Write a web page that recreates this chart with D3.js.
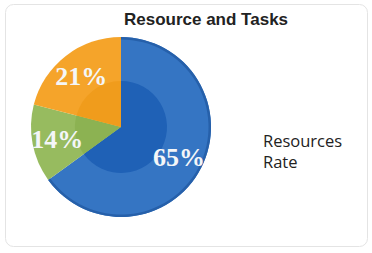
<!DOCTYPE html>
<html>
<head>
<meta charset="utf-8">
<script src="https://cdn.jsdelivr.net/npm/d3@7"></script>
<style>
  html, body { margin: 0; padding: 0; background: #fff; }
  svg { display: block; }
</style>
</head>
<body>
<svg id="chart" width="372" height="253"></svg>
<script>
// chart data
var categories = ["Resources", "Tasks", "Other"],
	values = [65, 14, 21],
	valueLabels = ["65%", "14%", "21%"],
	legendLines = ["Resources", "Rate"];

var outerColors = ["#3575c3", "#97bb5f", "#f5a42a"],
	innerColors = ["#1f61b6", "#8cb252", "#f09c1c"];

var svg = d3.select("#chart"),
	cx = 121,
	cy = 127,
	radius = 90,
	innerRadius = 46,
	labelRadius = 65;

// card
svg.append("rect")
	.attr("x", 5.5).attr("y", 4.5)
	.attr("width", 362).attr("height", 242)
	.attr("rx", 8)
	.attr("fill", "#fff")
	.attr("stroke", "#e4e4e4");

// title
svg.append("text")
	.attr("x", 206).attr("y", 25)
	.attr("text-anchor", "middle")
	.attr("font-family", "Liberation Sans, Arial, sans-serif")
	.attr("font-weight", "bold")
	.attr("font-size", 17)
	.attr("fill", "#222")
	.text("Resource and Tasks");

var pie = d3.pie().sort(null).value(function(d) { return d; });
var arcs = pie(values);

var outerArc = d3.arc().innerRadius(0).outerRadius(radius),
	innerArc = d3.arc().innerRadius(0).outerRadius(innerRadius),
	labelArc = d3.arc().innerRadius(labelRadius).outerRadius(labelRadius);

var g = svg.append("g").attr("transform", "translate(" + cx + "," + cy + ")");

// outer slices
g.selectAll(".slice")
	.data(arcs)
  .enter().append("path")
	.attr("class", "slice")
	.attr("d", outerArc)
	.attr("fill", function(d, i) { return outerColors[i]; });

// darker rim on the blue slice
g.append("path")
	.attr("d", d3.arc().innerRadius(radius - 2.5).outerRadius(radius)(arcs[0]))
	.attr("fill", "#2660aa");

// inner darker core
g.selectAll(".core")
	.data(arcs)
  .enter().append("path")
	.attr("class", "core")
	.attr("d", innerArc)
	.attr("fill", function(d, i) { return innerColors[i]; });

// percentage labels
g.selectAll(".label")
	.data(arcs)
  .enter().append("text")
	.attr("class", "label")
	.attr("transform", function(d) { return "translate(" + labelArc.centroid(d) + ")"; })
	.attr("text-anchor", "middle")
	.attr("dy", "0.35em")
	.attr("font-family", "Liberation Serif, Georgia, serif")
	.attr("font-weight", "bold")
	.attr("font-size", 26)
	.attr("fill", "#f4f6f8")
	.text(function(d, i) { return valueLabels[i]; });

// legend text
svg.append("text")
	.attr("x", 263).attr("y", 147)
	.attr("font-family", "Open Sans, sans-serif")
	.attr("font-size", 16.5)
	.attr("fill", "#222")
	.selectAll("tspan")
	.data(legendLines)
  .enter().append("tspan")
	.attr("x", 263)
	.attr("dy", function(d, i) { return i ? 21 : 0; })
	.text(function(d) { return d; });
</script>
</body>
</html>
